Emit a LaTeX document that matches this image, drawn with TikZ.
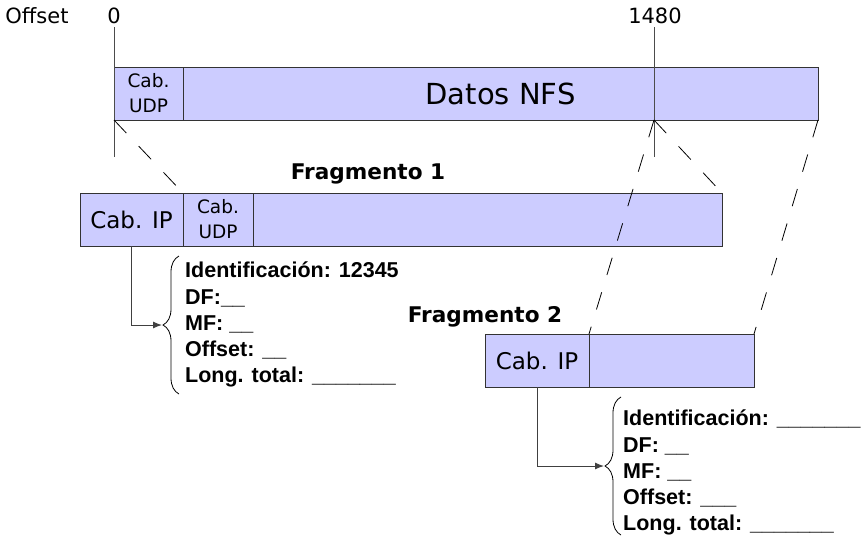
\documentclass[tikz,border=0pt]{standalone}
\usepackage{fontspec}
\setmainfont{DejaVu Sans}
\newfontfamily\listfont{Liberation Sans}
\usetikzlibrary{arrows.meta,positioning,decorations.pathreplacing}
\definecolor{lav}{HTML}{CCCCFF}

\begin{document}
\begin{tikzpicture}[
  x=1pt, y=-1pt,
  every node/.style={font=\fontsize{21}{24}\selectfont},
  cell/.style={draw=black!80, fill=lav, line width=1pt, inner sep=0pt, outer sep=0pt,
    minimum height=53pt, align=center, font=\fontsize{18.5}{25}\selectfont},
  hdr/.style={cell, font=\fontsize{23}{26}\selectfont},
  tick/.style={draw=black!70, line width=1pt},
  mapline/.style={line width=0.8pt, dash pattern=on 18pt off 18pt},
  arrow/.style={-{Latex[length=9pt,width=7pt]}, line width=1pt, draw=black!75},
  curly/.style={decorate, decoration={brace, amplitude=16pt}, line width=0.8pt},
  fields/.style={align=left, inner sep=0pt, anchor=north west,
    font=\listfont\bfseries\fontsize{21.5}{26.2}\selectfont},
  title/.style={font=\bfseries\fontsize{21.6}{24}\selectfont}
]
\useasboundingbox (0,0) rectangle (865,547);

% offsets
\node (off) at (37,16) {Offset};
\node (zero) at (114,16) {0};
\node (mark) at (655,16) {1480};
\coordinate (zend) at (114,157);
\coordinate (mend) at (654,157);

% original datagram
\node[cell, minimum width=69pt, anchor=north west] (udp0) at (114,67) {Cab.\\UDP};
\node[cell, minimum width=635pt, right=0pt of udp0, font=\fontsize{29}{32}\selectfont] (nfs) {Datos NFS};

\draw[tick] (zero.south -| zend) -- (zend);
\draw[tick] (mark.south -| mend) -- (mend);
\coordinate (cut) at (nfs.south -| mend);

% fragment 1
\node[hdr, minimum width=103pt, anchor=north west] (ip1) at (80,193) {Cab. IP};
\node[cell, minimum width=70pt, right=0pt of ip1] (udp1) {Cab.\\UDP};
\node[cell, minimum width=469pt, right=0pt of udp1] (data1) {};
\node[title] (frag1) at (368,174) {Fragmento 1};

% fragment 2
\node[hdr, minimum width=104pt, anchor=north west] (ip2) at (485,334) {Cab. IP};
\node[cell, minimum width=165pt, right=0pt of ip2] (data2) {};
\node[title] (frag2) at (485,317) {Fragmento 2};

\draw[mapline] (udp0.south west) -- (udp1.north west);
\draw[mapline] (cut) -- (data1.north east);
\draw[mapline] (cut) -- (data2.north west);
\draw[mapline] (nfs.south east) -- (data2.north east);

% header fields
\coordinate (bot1) at (179,394);
\coordinate (top1) at (179,256);
\coordinate (tip1) at (162,325);
\draw[curly] (bot1) -- (top1);
\draw[arrow] (ip1.south) |- (tip1);
\node[fields] (info1) at (185,262)
  {Identificación: 12345\\DF:\_\_\\MF: \_\_\\Offset: \_\_\\Long. total: \_\_\_\_\_\_\_};

\coordinate (bot2) at (621,535);
\coordinate (top2) at (621,397);
\coordinate (tip2) at (604,466);
\draw[curly] (bot2) -- (top2);
\draw[arrow] (ip2.south) |- (tip2);
\node[fields] (info2) at (623,410)
  {Identificación: \_\_\_\_\_\_\_\\DF: \_\_\\MF: \_\_\\Offset: \_\_\_\\Long. total: \_\_\_\_\_\_\_};

\end{tikzpicture}
\end{document}
